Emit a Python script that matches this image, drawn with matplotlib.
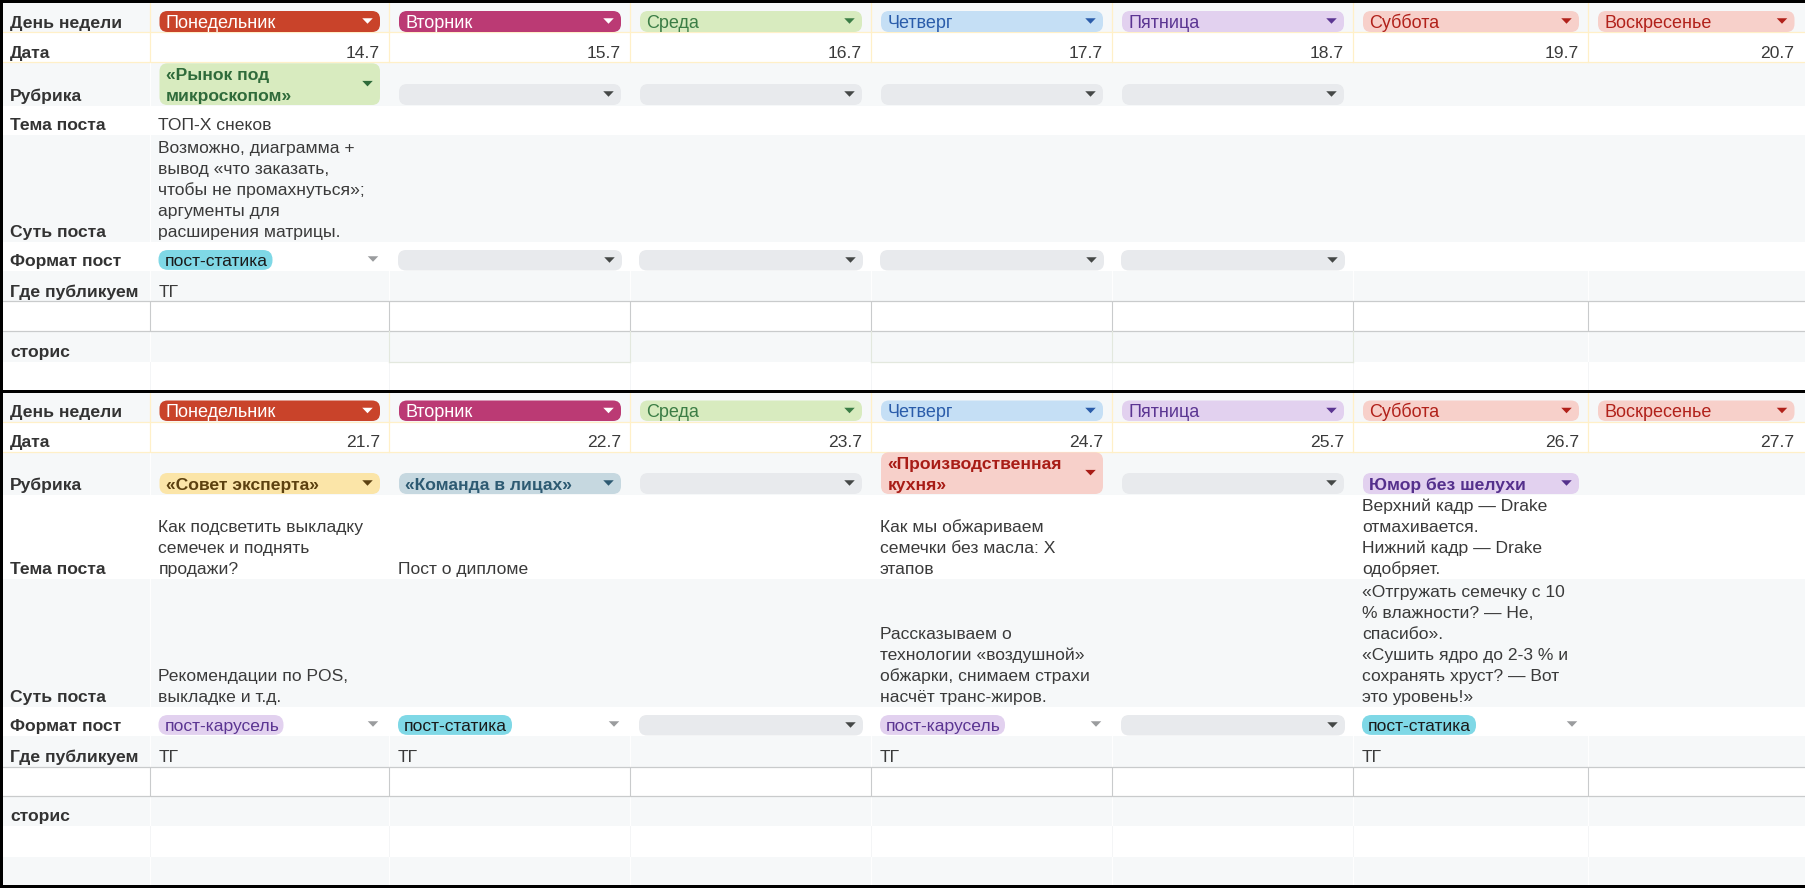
import matplotlib
matplotlib.use('Agg')
import matplotlib.pyplot as plt
from matplotlib.patches import FancyBboxPatch, Polygon, Rectangle

plt.rcParams['font.family'] = ['Liberation Sans', 'DejaVu Sans']

# данные таблицы
row_labels = ['День недели', 'Дата', 'Рубрика', 'Тема поста', 'Суть поста',
              'Формат пост', 'Где публикуем', '', 'сторис']
days = ['Понедельник', 'Вторник', 'Среда', 'Четверг', 'Пятница', 'Суббота', 'Воскресенье']
dates_week1 = ['14.7', '15.7', '16.7', '17.7', '18.7', '19.7', '20.7']
dates_week2 = ['21.7', '22.7', '23.7', '24.7', '25.7', '26.7', '27.7']

rubric_week1 = ['«Рынок под\nмикроскопом»', '', '', '', '', None, None]
rubric_week2 = ['«Совет эксперта»', '«Команда в лицах»', '', '«Производственная\nкухня»', '',
                'Юмор без шелухи', None]
topic_week1 = ['ТОП-Х снеков', '', '', '', '', '', '']
topic_week2 = ['Как подсветить выкладку\nсемечек и поднять\nпродажи?', 'Пост о дипломе', '',
               'Как мы обжариваем\nсемечки без масла: Х\nэтапов', '',
               'Верхний кадр — Drake\nотмахивается.\nНижний кадр — Drake\nодобряет.', '']
idea_week1 = ['Возможно, диаграмма +\nвывод «что заказать,\nчтобы не промахнуться»;\nаргументы для\nрасширения матрицы.',
              '', '', '', '', '', '']
idea_week2 = ['Рекомендации по POS,\nвыкладке и т.д.', '', '',
              'Рассказываем о\nтехнологии «воздушной»\nобжарки, снимаем страхи\nнасчёт транс-жиров.', '',
              '«Отгружать семечку с 10\n% влажности? — Не,\nспасибо».\n«Сушить ядро до 2-3 % и\nсохранять хруст? — Вот\nэто уровень!»', '']
format_week1 = ['пост-статика', '', '', '', '', None, None]
format_week2 = ['пост-карусель', 'пост-статика', '', 'пост-карусель', '', 'пост-статика', None]
where_week1 = ['ТГ', '', '', '', '', '', '']
where_week2 = ['ТГ', 'ТГ', '', 'ТГ', '', 'ТГ', '']

# цвета чипов: фон, текст
day_colors = [('#C9432A', '#FFFFFF'), ('#BB3A74', '#FFFFFF'), ('#D8EBBF', '#3B7D45'),
              ('#C5DFF5', '#2A5CAA'), ('#E2D1EF', '#5B3592'), ('#F7D0CA', '#B1211A'),
              ('#F7D0CA', '#B1211A')]
chip_colors = {
    '«Рынок под\nмикроскопом»': ('#D8EBBF', '#2F6B3A'),
    '«Совет эксперта»': ('#FBE5A8', '#5C4110'),
    '«Команда в лицах»': ('#C6D8E0', '#2D5A72'),
    '«Производственная\nкухня»': ('#F7D0CA', '#A81C16'),
    'Юмор без шелухи': ('#E2D1EF', '#54308C'),
    'пост-статика': ('#7FD8E6', '#1A1A1A'),
    'пост-карусель': ('#E2D1EF', '#5B3592'),
}
band = '#F6F8F9'
yellow_line = '#FFF0C8'
grid_line = '#C9CBCC'
green_line = '#E3E8DE'
text_dark = '#3A3A3A'
label_dark = '#333333'

# разметка в пикселях
col_x = [150, 389.5, 630.5, 871.5, 1112.5, 1353.5, 1588.5, 1804]
rows1 = [3.5, 32.5, 62.5, 106, 135, 242, 271, 301.5, 331.5, 362, 390]
rows2 = [393, 421.5, 451.5, 495, 579, 707, 736, 766.5, 796, 826, 857, 885]
fs = 12.6
day_fs = 13
pitch = 21

fig = plt.figure(figsize=(18.06, 8.88), dpi=100)
ax = fig.add_axes([0, 0, 1, 1])
ax.set_xlim(0, 1806)
ax.set_ylim(888, 0)
ax.axis('off')


def put_lines(x, bottom, text, **kw):
    lines = text.split('\n')
    for i, line in enumerate(lines):
        y = bottom - 4.6 - pitch * (len(lines) - 1 - i)
        ax.text(x, y, line, va='baseline', fontsize=fs, **kw)


def chip(x0, x1, y0, y1, color, radius=8):
    ax.add_patch(FancyBboxPatch((x0 + radius, y0 + radius), x1 - x0 - 2 * radius, y1 - y0 - 2 * radius,
                                boxstyle=f'round,pad={radius},rounding_size={radius}',
                                fc=color, ec='none', zorder=3))


def arrow(cx, cy, color, w=10.5, h=5.5):
    ax.add_patch(Polygon([(cx - w / 2, cy - h / 2), (cx + w / 2, cy - h / 2), (cx, cy + h / 2)],
                         closed=True, fc=color, ec='none', zorder=4))


def draw_block(rows, dates, rubrics, topics, ideas, formats, where):
    x_left, x_right = 3.5, 1806
    # полосы строк
    for i in range(len(rows) - 1):
        c = band if i % 2 == 0 else '#FFFFFF'
        ax.add_patch(Rectangle((x_left, rows[i]), x_right - x_left, rows[i + 1] - rows[i], fc=c, ec='none', zorder=1))

    # линии колонок
    for x in col_x[:-1]:
        ax.plot([x, x], [rows[0], rows[2]], color=yellow_line, lw=0.9, zorder=2)
        ax.plot([x, x], [rows[7], rows[8]], color=grid_line, lw=0.8, zorder=2)
        ax.plot([x, x], [rows[6], rows[7]], color='#FFFFFF', lw=0.7, zorder=2)
        ax.plot([x, x], [rows[8], rows[9]], color='#FFFFFF', lw=0.7, zorder=2)
        ax.plot([x, x], [rows[9], rows[10]], color='#F4F5F6', lw=0.7, zorder=2)
        if len(rows) > 11:
            ax.plot([x, x], [rows[10], rows[11]], color='#FFFFFF', lw=0.7, zorder=2)
    # белая линия после колонки подписей
    ax.plot([col_x[0], col_x[0]], [rows[2], rows[6]], color='#FFFFFF', lw=0.7, zorder=2)
    for y in rows[1:3]:
        ax.plot([x_left, x_right], [y, y], color=yellow_line, lw=0.9, zorder=2)
    for y in rows[7:9]:
        ax.plot([x_left, x_right], [y, y], color=grid_line, lw=0.9, zorder=2)

    # подписи слева
    for i, label in enumerate(row_labels):
        if label:
            ax.text(10, rows[i + 1] - 4.6, label, fontsize=fs, fontweight='bold', color=label_dark, va='baseline')

    for j in range(7):
        x0, x1 = col_x[j], col_x[j + 1]
        px0, px1 = x0 + 9.5, x1 - 9.5
        # день недели
        fc, tc = day_colors[j]
        chip(px0, px1, rows[0] + 7.5, rows[1] - 0.5, fc)
        ax.text(px0 + 6.5, rows[1] - 4.6, days[j], fontsize=day_fs, color=tc, va='baseline', zorder=5)
        arrow(px1 - 12.5, rows[0] + 17.5, tc)
        # дата
        ax.text(x1 - 9.5, rows[2] - 4.6, dates[j], fontsize=fs, color=text_dark, ha='right', va='baseline')
        # рубрика
        r = rubrics[j]
        if r is not None:
            n = r.count('\n') + 1
            bottom = rows[3] - 1
            top = bottom - 21 if n == 1 else rows[2] + 0.8
            fc, tc = chip_colors.get(r, ('#E8EAED', '#444746'))
            chip(px0, px1, top, bottom, fc)
            arrow(px1 - 12.5, (top + bottom) / 2 - 0.5, tc if r else '#444746')
            if r:
                put_lines(px0 + 6.5, rows[3], r, color=tc, fontweight='bold', zorder=5)
        # тема и суть
        if topics[j]:
            put_lines(x0 + 8.5, rows[4], topics[j], color=text_dark)
        if ideas[j]:
            put_lines(x0 + 8.5, rows[5], ideas[j], color=text_dark)
        # формат
        f = formats[j]
        if f is not None:
            top, bottom = rows[5] + 8, rows[6] - 0.5
            if f:
                fc, tc = chip_colors[f]
                width = 114 if f == 'пост-статика' else 125
                chip(x0 + 8.5, x0 + 8.5 + width, top, bottom - 0.6, fc, radius=9.5)
                ax.text(x0 + 14.5, rows[6] - 4.6, f, fontsize=fs, color=tc, va='baseline', zorder=5)
                arrow(x1 - 16.5, top + 9, '#9A9C9E')
            else:
                chip(x0 + 8.5, x1 - 8.5, top, bottom, '#E8EAED')
                arrow(x1 - 21, top + 10, '#444746')
        if where[j]:
            put_lines(x0 + 8.5, rows[7], where[j], color=text_dark)


draw_block(rows1, dates_week1, rubric_week1, topic_week1, idea_week1, format_week1, where_week1)
draw_block(rows2, dates_week2, rubric_week2, topic_week2, idea_week2, format_week2, where_week2)

# рамка ячеек сторис в первой неделе
for x_a, x_b in [(col_x[1], col_x[2]), (col_x[3], col_x[5])]:
    ax.plot([x_a, x_b], [rows1[9], rows1[9]], color=green_line, lw=0.9, zorder=2.5)
for x in col_x[1:6]:
    ax.plot([x, x], [rows1[8], rows1[9]], color=green_line, lw=0.8, zorder=2.5)

# чёрная рамка скриншотов
for y0, y1 in [(0, 3.5), (390, 393), (885, 888)]:
    ax.add_patch(Rectangle((0, y0), 1806, y1 - y0, fc='black', ec='none', zorder=6))
ax.add_patch(Rectangle((0, 0), 3.5, 888, fc='black', ec='none', zorder=6))
# справа рамка с разрывами
for y0, y1 in [(0, rows1[1]), (rows1[2], rows1[3]), (rows1[6], rows2[1]), (rows2[2], 888)]:
    ax.add_patch(Rectangle((1804.7, y0), 1.3, y1 - y0, fc='black', ec='none', zorder=6))

fig.savefig('out.png', dpi=100)
